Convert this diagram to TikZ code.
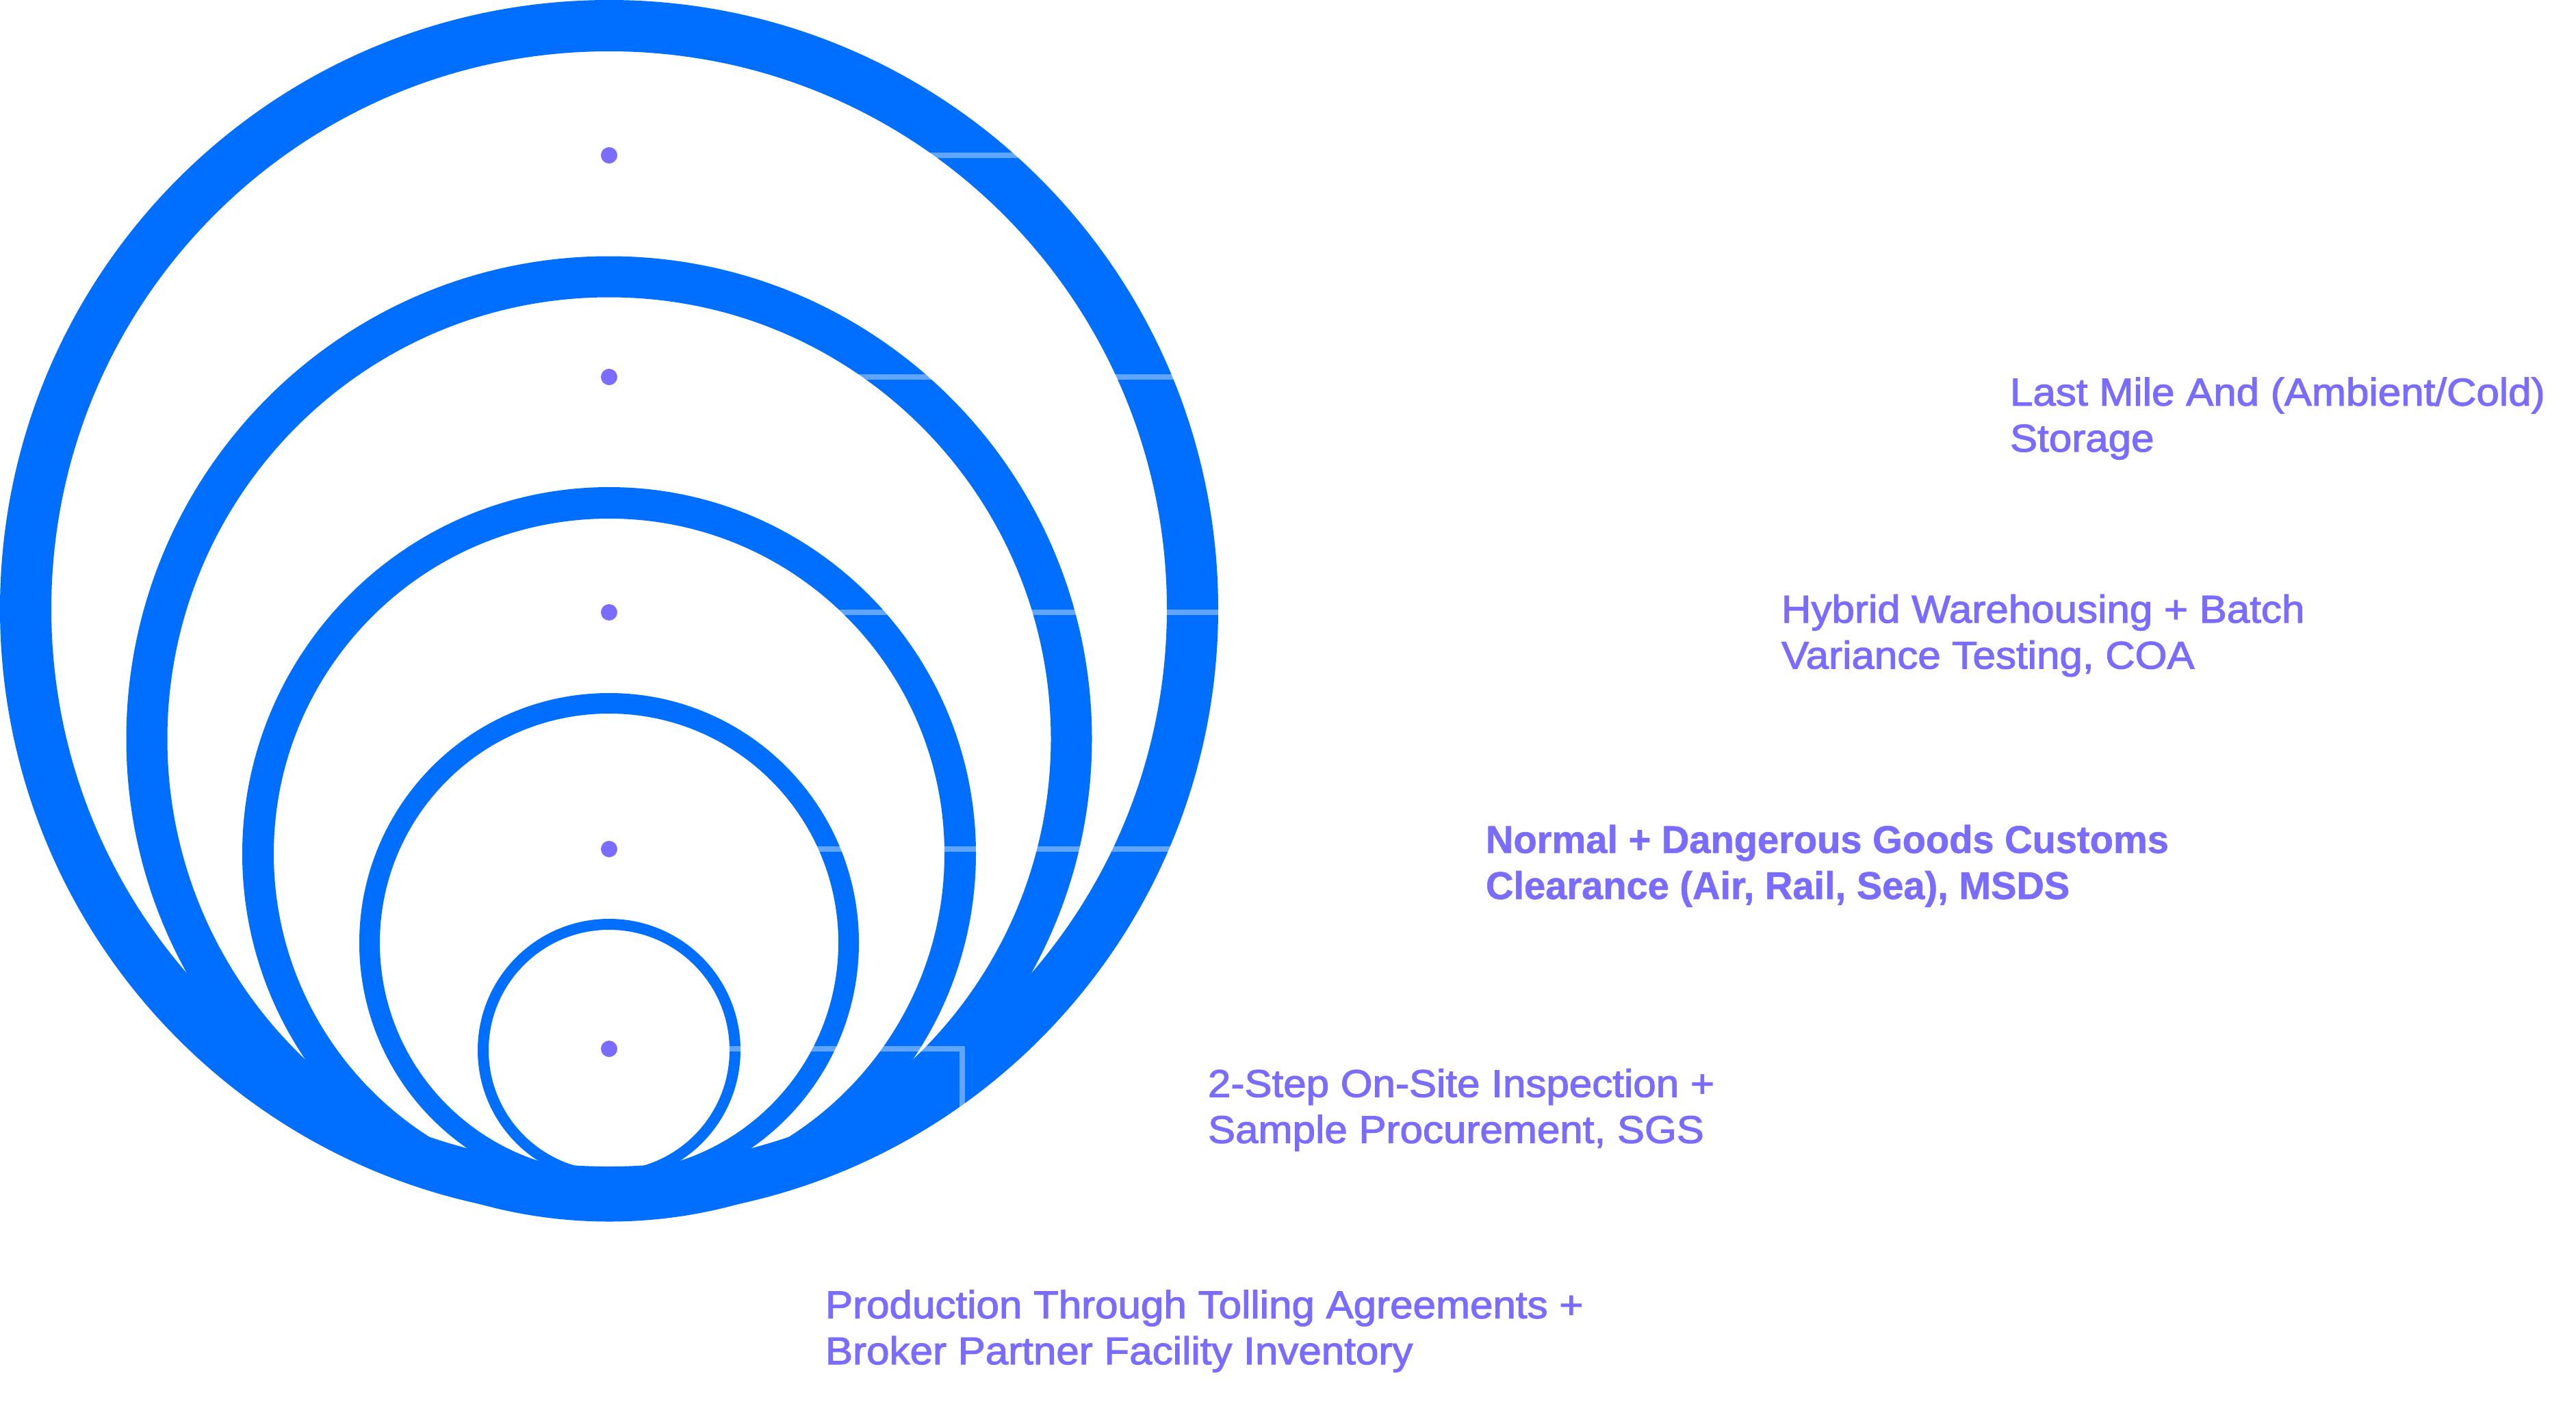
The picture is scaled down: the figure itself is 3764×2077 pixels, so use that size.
\documentclass[tikz,border=0pt]{standalone}
\usepackage{fontspec}
\setmainfont{Liberation Sans}[FakeStretch=1.062,FakeBold=2]
\newfontfamily\boldlab{Liberation Sans}[FakeStretch=0.99,FakeBold=1]
\definecolor{ringblue}{HTML}{006EFF}
\definecolor{labpurple}{HTML}{7A6CFF}
\begin{document}
\begin{tikzpicture}[x=1pt,y=-1pt,
  ring/.style={draw=ringblue},
  dotn/.style={circle, fill=labpurple, minimum size=24pt, inner sep=0pt, outer sep=0pt},
  leader/.style={draw=white, draw opacity=0.38, line width=7.5pt},
  lab/.style={anchor=base west, inner sep=0pt, outer sep=0pt, text=labpurple, align=left,
              font=\fontsize{56.6}{67.3}\selectfont},
  labbold/.style={lab, font=\boldlab\bfseries\fontsize{56.6}{67.3}\selectfont}]
\useasboundingbox (0,0) rectangle (3764,2077);
% rings
\draw[ring, line width=75pt] (890,890) circle [radius=852.5pt];
\draw[ring, line width=60pt] (890,1080) circle [radius=675.5pt];
\draw[ring, line width=46pt] (890,1248) circle [radius=513pt];
\draw[ring, line width=30pt] (890,1378) circle [radius=350pt];
\draw[ring, line width=16pt] (890,1535) circle [radius=184pt];
% dots
\node[dotn] (d1) at (890,227) {};
\node[dotn] (d2) at (890,551) {};
\node[dotn] (d3) at (890,895) {};
\node[dotn] (d4) at (890,1241) {};
\node[dotn] (d5) at (890,1533) {};
% leader ends
\coordinate (e1) at (1820,227);
\coordinate (e2) at (1820,551);
\coordinate (e3) at (1820,895);
\coordinate (e4) at (1820,1241);
\coordinate (e5) at (1406,1660);
\draw[leader] (d1.east) -- (e1);
\draw[leader] (d2.east) -- (e2);
\draw[leader] (d3.east) -- (e3);
\draw[leader] (d4.east) -- (e4);
\draw[leader] (d5.east) -| (e5);
% labels (anchor base = baseline of the last line)
\node[lab] (l1) at (2937,660) {Last Mile And (Ambient/Cold)\\Storage};
\node[lab] (l2) at (2603,977.3) {Hybrid Warehousing + Batch\\Variance Testing, COA};
\node[labbold] (l3) at (2171,1314) {Normal + Dangerous Goods Customs\\Clearance (Air, Rail, Sea), MSDS};
\node[lab] (l4) at (1765,1670.6) {2-Step On-Site Inspection +\\Sample Procurement, SGS};
\node[lab] (l5) at (1206,1994) {Production Through Tolling Agreements +\\Broker Partner Facility Inventory};
\end{tikzpicture}
\end{document}
